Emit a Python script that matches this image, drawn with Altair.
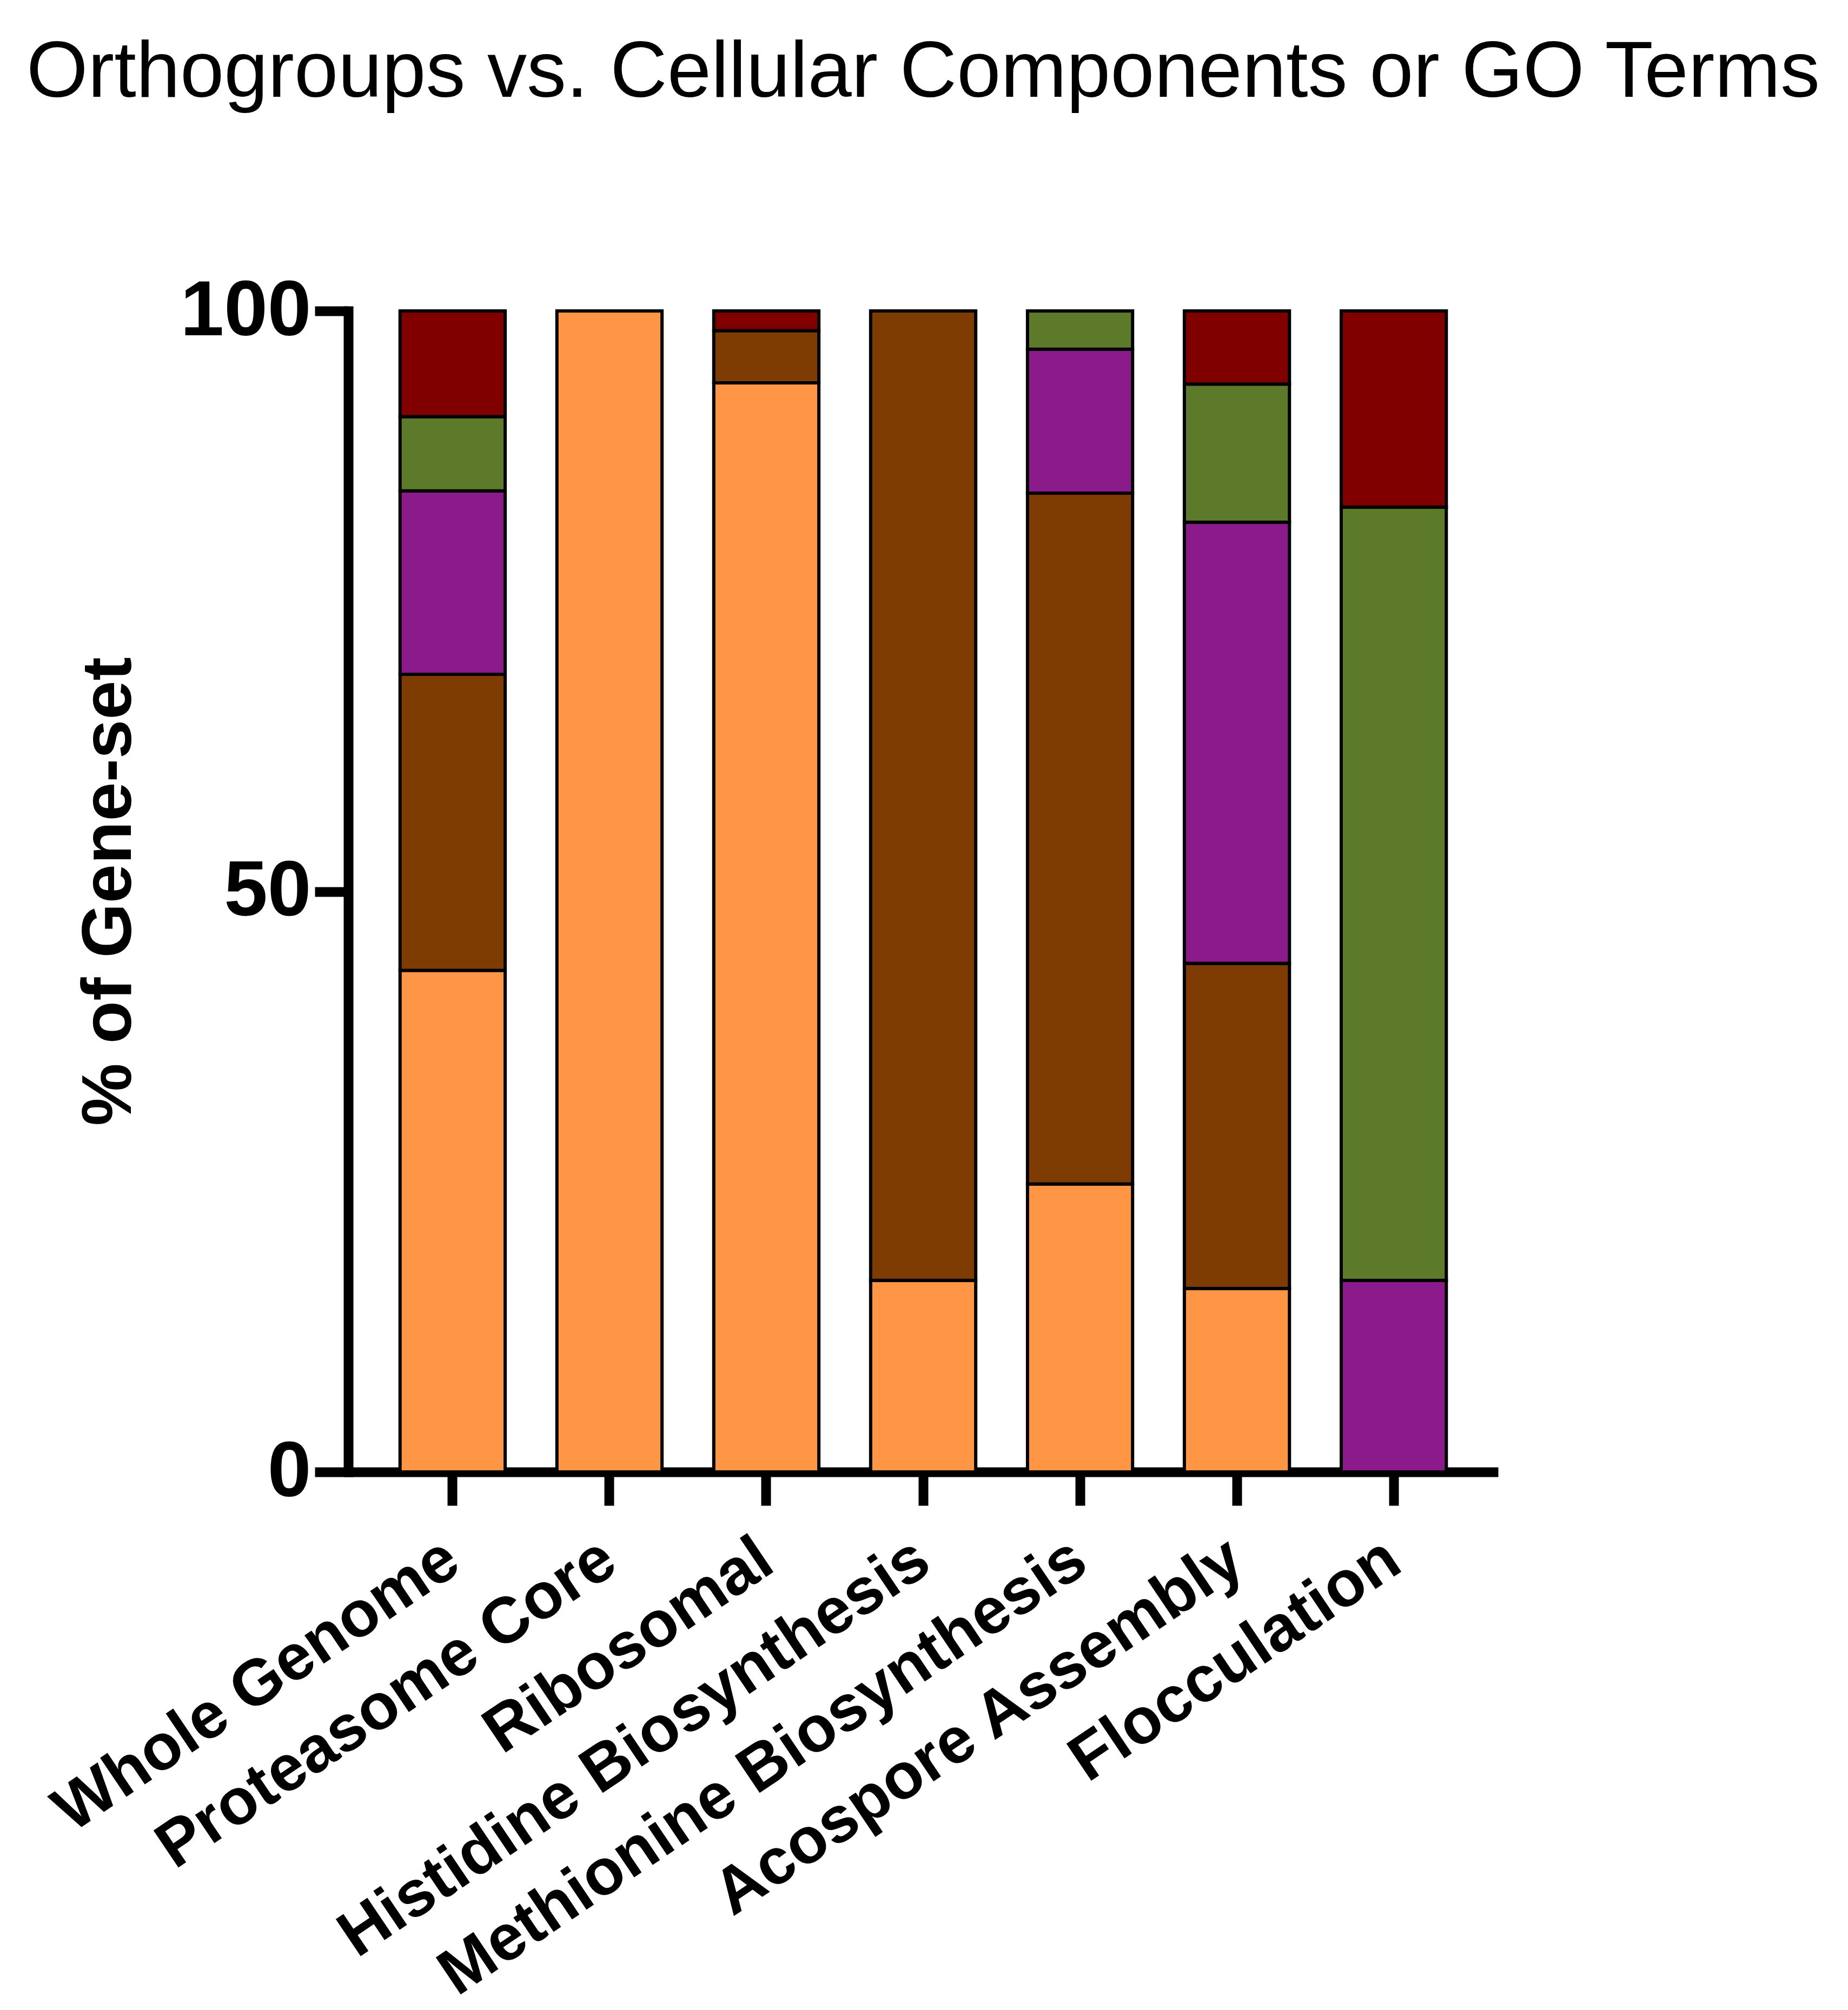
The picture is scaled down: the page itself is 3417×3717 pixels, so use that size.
import altair as alt
import pandas as pd

categories = ["Whole Genome", "Proteasome Core", "Ribosomal", "Histidine Biosynthesis",
              "Methionine Biosynthesis", "Acospore Assembly", "Flocculation"]
series = ["Series 1", "Series 2", "Series 3", "Series 4", "Series 5"]
colors = ["#FF9646", "#7F3C02", "#8B1A8B", "#5D7A2B", "#800000"]

s1_orange = [43.2, 100.0, 93.8, 16.5, 24.8, 15.8, 0.0]
s2_brown = [25.5, 0.0, 4.5, 83.5, 59.5, 28.0, 0.0]
s3_purple = [15.8, 0.0, 0.0, 0.0, 12.4, 38.0, 16.5]
s4_green = [6.4, 0.0, 0.0, 0.0, 3.3, 11.9, 66.6]
s5_red = [9.1, 0.0, 1.7, 0.0, 0.0, 6.3, 16.9]

all_series = [s1_orange, s2_brown, s3_purple, s4_green, s5_red]
rows = []
for si, (name, vals) in enumerate(zip(series, all_series)):
    for cat, v in zip(categories, vals):
        if v > 0:
            rows.append({"category": cat, "series": name, "idx": si, "value": v})
df = pd.DataFrame(rows)

FONT = "Liberation Sans"

chart = alt.Chart(df).mark_bar(stroke="black", strokeWidth=6).encode(
    x=alt.X("category:N", sort=categories,
            scale=alt.Scale(paddingInner=0.33, paddingOuter=0.33),
            axis=alt.Axis(title=None, labelAngle=326, labelAlign="right", labelBaseline="middle",
                          labelFontSize=120, labelFont=FONT, labelFontWeight="bold",
                          labelColor="black", labelPadding=88, labelLimit=0, labelOverlap=False,
                          tickSize=62, tickWidth=18, tickColor="black",
                          domainWidth=18, domainColor="black", grid=False)),
    y=alt.Y("value:Q", stack="zero",
            scale=alt.Scale(domain=[0, 100], nice=False),
            axis=alt.Axis(values=[0, 50, 100], title="% of Gene-set",
                          titleFont=FONT, titleFontSize=130, titleFontWeight="bold", titleColor="black",
                          titleAngle=270, titleAlign="center", titleBaseline="middle",
                          titleX=-442, titleY=1073,
                          labelFont=FONT, labelFontSize=145, labelFontWeight="bold", labelColor="black",
                          labelPadding=7, labelLimit=0, tickSize=62, tickWidth=18, tickColor="black",
                          domainWidth=18, domainColor="black", domainCap="square", grid=False)),
    color=alt.Color("series:N", scale=alt.Scale(domain=series, range=colors), legend=None),
    order=alt.Order("idx:Q"),
).properties(
    width=2126, height=2147,
    background="white",
    title=alt.TitleParams(text="Orthogroups vs. Cellular Components or GO Terms",
                          font=FONT, fontSize=146, fontWeight="normal", color="black",
                          anchor="middle", frame="group", baseline="alphabetic", offset=178),
    padding={"left": 644, "top": 575, "right": 647, "bottom": 995},
    autosize=alt.AutoSizeParams(type="none"),
).configure_view(stroke=None)

chart.save("out.html", embed_options={"renderer": "svg", "actions": False})
